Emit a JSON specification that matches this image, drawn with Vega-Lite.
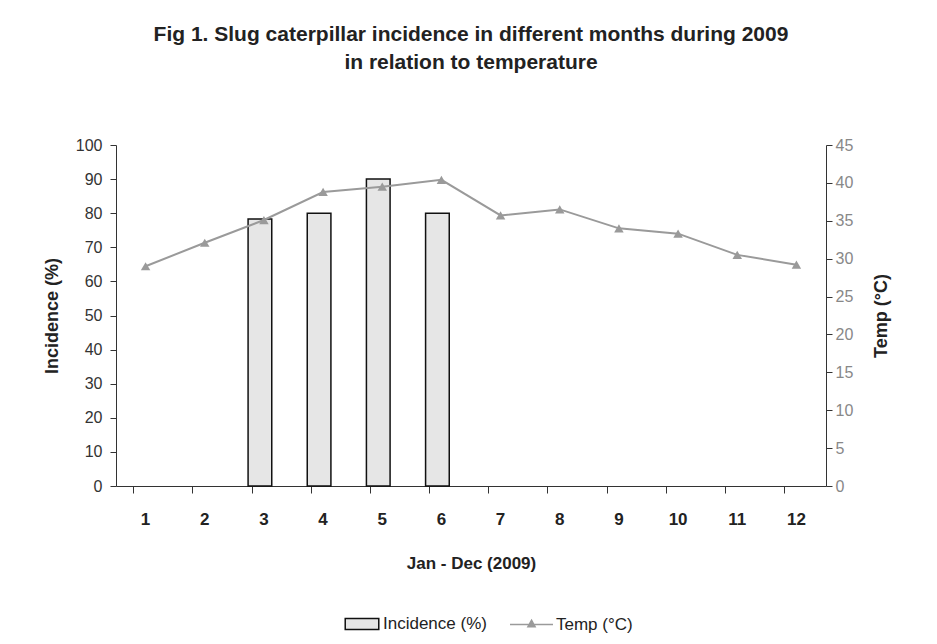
{
  "$schema": "https://vega.github.io/schema/vega-lite/v6.json",
  "autosize": {"type": "none"},
  "width": 710,
  "height": 341,
  "padding": {"left": 116, "top": 145, "right": 111, "bottom": 158},
  "background": "white",
  "config": {
    "font": "Liberation Sans",
    "view": {"stroke": null},
    "axis": {"grid": false, "domainColor": "#333", "tickColor": "#333"}
  },
  "title": {
    "text": ["Fig 1. Slug caterpillar incidence in different months during 2009", "in relation to temperature"],
    "fontSize": 21,
    "fontWeight": "bold",
    "color": "#222",
    "anchor": "middle",
    "frame": "group",
    "offset": 64,
    "lineHeight": 28
  },
  "data": {
    "values": [
      {"month": 1, "incidence": 0, "temp": 29.0},
      {"month": 2, "incidence": 0, "temp": 32.1},
      {"month": 3, "incidence": 78.3, "temp": 35.1},
      {"month": 4, "incidence": 80, "temp": 38.8},
      {"month": 5, "incidence": 90, "temp": 39.5},
      {"month": 6, "incidence": 80, "temp": 40.4},
      {"month": 7, "incidence": 0, "temp": 35.7},
      {"month": 8, "incidence": 0, "temp": 36.5},
      {"month": 9, "incidence": 0, "temp": 34.0},
      {"month": 10, "incidence": 0, "temp": 33.3},
      {"month": 11, "incidence": 0, "temp": 30.5},
      {"month": 12, "incidence": 0, "temp": 29.2}
    ]
  },
  "encoding": {
    "x": {
      "field": "month",
      "type": "ordinal",
      "scale": {"paddingInner": 0.6, "paddingOuter": 0.3},
      "axis": {
        "title": "Jan - Dec (2009)",
        "titleFontSize": 17,
        "titleFontWeight": "bold",
        "titleColor": "#222",
        "titlePadding": 28,
        "labelAngle": 0,
        "labelFontSize": 17,
        "labelFontWeight": "bold",
        "labelColor": "#222",
        "labelPadding": 18,
        "tickSize": 7,
        "bandPosition": 0
      }
    }
  },
  "layer": [
    {
      "transform": [{"filter": "datum.incidence > 0"}],
      "mark": {"type": "bar", "stroke": "#111", "strokeWidth": 1.5, "xOffset": -4},
      "encoding": {
        "y": {
          "field": "incidence",
          "type": "quantitative",
          "scale": {"domain": [0, 100]},
          "axis": {
            "title": "Incidence (%)",
            "titleFontSize": 18,
            "titleFontWeight": "bold",
            "titleColor": "#222",
            "titlePadding": 14,
            "labelFontSize": 16,
            "labelColor": "#333",
            "labelPadding": 8,
            "tickCount": 10,
            "tickSize": 6
          }
        },
        "fill": {
          "datum": "Incidence (%)",
          "scale": {"range": ["#e6e6e6"]},
          "legend": {
            "orient": "none",
            "legendX": 234,
            "legendY": 467,
            "title": null,
            "labelFontSize": 17,
            "labelColor": "#222",
            "symbolType": "M-1.5,-0.5H1.5V0.5H-1.5Z",
            "symbolSize": 500,
            "symbolStrokeColor": "#111",
            "symbolStrokeWidth": 1.5,
            "labelOffset": 9
          }
        }
      }
    },
    {
      "mark": {"type": "line", "strokeWidth": 2},
      "encoding": {
        "y": {
          "field": "temp",
          "type": "quantitative",
          "scale": {"domain": [0, 45]},
          "axis": {
            "orient": "right",
            "title": "Temp (°C)",
            "titleAngle": 270,
            "titleFontSize": 18,
            "titleFontWeight": "bold",
            "titleColor": "#222",
            "titlePadding": 38,
            "labelFontSize": 16,
            "labelColor": "#888",
            "labelPadding": 3,
            "tickCount": 9,
            "tickSize": 6
          }
        },
        "stroke": {
          "datum": "Temp  (°C)",
          "scale": {"range": ["#9a9a9a"]},
          "legend": {
            "orient": "none",
            "legendX": 400,
            "legendY": 464,
            "title": null,
            "labelFontSize": 17,
            "labelColor": "#222",
            "symbolType": "M-1.5,0H1.5M0,-0.3L0.25,0.15L-0.25,0.15Z",
            "symbolSize": 820,
            "symbolFillColor": "#9a9a9a",
            "symbolStrokeWidth": 1.5,
            "labelOffset": 9
          }
        }
      }
    },
    {
      "mark": {"type": "point", "shape": "triangle-up", "filled": true, "size": 90, "color": "#9a9a9a", "opacity": 1},
      "encoding": {
        "y": {"field": "temp", "type": "quantitative", "scale": {"domain": [0, 45]}, "axis": null}
      }
    }
  ],
  "resolve": {"scale": {"y": "independent"}}
}
